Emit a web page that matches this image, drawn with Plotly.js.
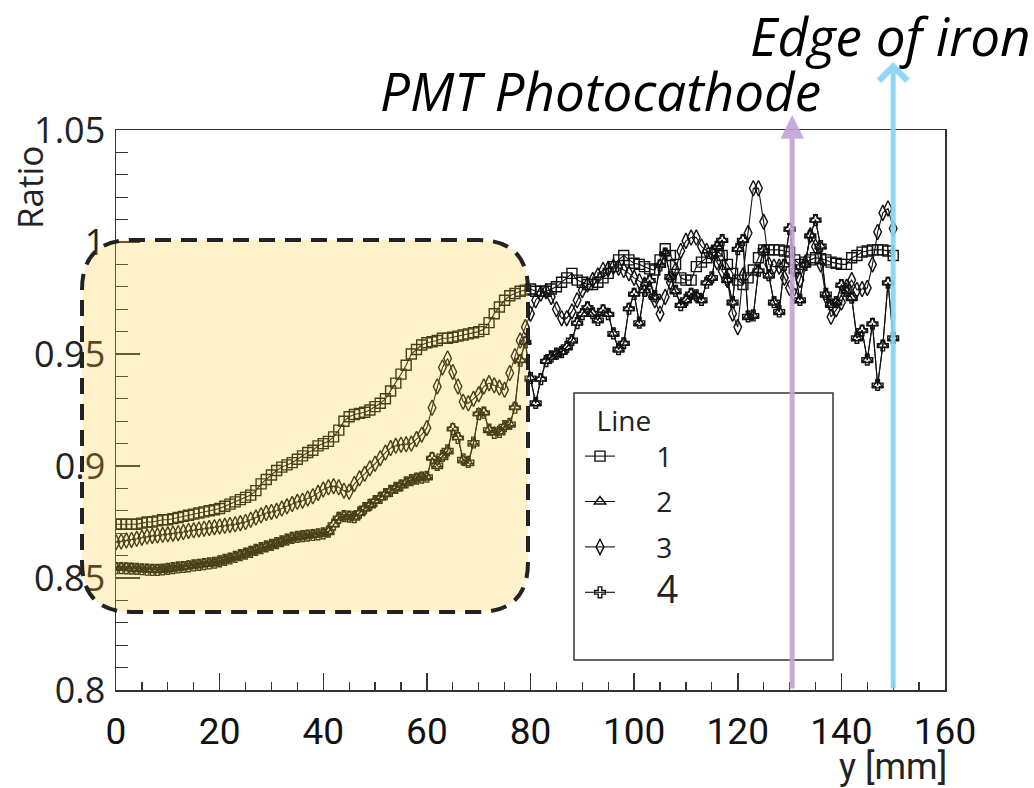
<!DOCTYPE html>
<html><head><meta charset="utf-8">
<script src="https://cdn.plot.ly/plotly-3.0.1.min.js"></script>
<style>html,body{margin:0;padding:0;background:#fff;} #chart{width:1034px;height:788px;}</style>
</head><body><div id="chart"></div>
<script>
// position along the bar, y [mm]
const yMM = [0,1,2,3,4,5,6,7,8,9,10,11,12,13,14,15,16,17,18,19,20,21,22,23,24,25,26,27,28,29,
30,31,32,33,34,35,36,37,38,39,40,41,42,43,44,45,46,47,48,49,50,51,52,53,54,55,56,57,58,59,
60,61,62,63,64,65,66,67,68,69,70,71,72,73,74,75,76,77,78,79,80,81,82,83,84,85,86,87,88,89,
90,91,92,93,94,95,96,97,98,99,100,101,102,103,104,105,106,107,108,109,110,111,112,113,114,115,116,117,118,119,
120,121,122,123,124,125,126,127,128,129,130,131,132,133,134,135,136,137,138,139,140,141,142,143,144,145,146,147,148,149,150];

const line1 = [0.874,0.874,0.874,0.874,0.874,0.8745,0.875,0.875,0.8755,0.876,
0.876,0.8765,0.877,0.8775,0.878,0.8785,0.879,0.8795,0.880,0.8805,
0.881,0.882,0.883,0.884,0.885,0.886,0.887,0.889,0.892,0.894,
0.896,0.898,0.8995,0.9005,0.9015,0.903,0.9045,0.906,0.907,0.909,
0.910,0.911,0.913,0.916,0.920,0.922,0.923,0.9235,0.924,0.925,
0.9265,0.928,0.930,0.9335,0.937,0.941,0.945,0.950,0.952,0.954,
0.955,0.9555,0.956,0.957,0.957,0.9575,0.958,0.9585,0.959,0.9595,
0.960,0.961,0.964,0.968,0.971,0.974,0.976,0.977,0.978,0.9785,
0.979,0.978,0.978,0.978,0.979,0.980,0.982,0.984,0.986,0.983,
0.982,0.981,0.981,0.982,0.984,0.986,0.989,0.992,0.994,0.992,
0.9905,0.990,0.989,0.988,0.9875,0.992,0.997,0.994,0.990,0.984,
0.983,0.983,0.989,0.991,0.993,0.995,0.996,0.994,0.990,0.986,
0.983,0.981,0.984,0.9875,0.993,0.9965,0.9965,0.9965,0.9965,0.996,
0.9955,0.992,0.990,0.991,0.992,0.993,0.9925,0.992,0.991,0.9905,
0.990,0.990,0.993,0.994,0.9955,0.996,0.9965,0.9965,0.9965,0.996,
0.994];

const line2 = [0.8546,0.8545,0.8545,0.8543,0.854,0.854,0.8538,0.8537,0.8536,0.8537,
0.854,0.8543,0.8546,0.855,0.8553,0.8556,0.856,0.8563,0.8565,0.8567,
0.8573,0.858,0.8588,0.8595,0.8603,0.861,0.8618,0.8625,0.8632,0.864,
0.8647,0.8655,0.8663,0.8672,0.868,0.8683,0.8686,0.869,0.8693,0.8696,
0.8698,0.8705,0.874,0.877,0.8775,0.8775,0.877,0.879,0.881,0.8825,
0.8845,0.886,0.8875,0.889,0.890,0.8915,0.8925,0.8935,0.8945,0.895,
0.895,0.904,0.900,0.904,0.9066,0.917,0.913,0.9025,0.9013,0.910,
0.9237,0.924,0.916,0.915,0.915,0.9175,0.9185,0.9265,0.9475,0.9555,
0.939,0.928,0.939,0.947,0.9487,0.950,0.951,0.953,0.956,0.964,
0.968,0.971,0.968,0.965,0.9697,0.968,0.959,0.952,0.955,0.9705,
0.977,0.9637,0.9786,0.983,0.9755,0.990,0.995,0.9844,0.978,0.972,
0.974,0.977,0.976,0.974,0.982,0.984,0.998,1.001,0.983,0.973,
0.997,1.001,0.9665,0.967,0.9875,0.9965,0.985,0.973,0.9687,0.990,
1.006,0.987,0.974,0.990,1.003,1.010,0.998,0.9765,0.972,0.973,
0.981,0.978,0.975,0.957,0.9607,0.9473,0.9637,0.936,0.954,0.982,
0.957];

const line3 = [0.866,0.8663,0.8667,0.867,0.8675,0.868,0.8685,0.8688,0.869,0.8693,
0.8695,0.8698,0.870,0.8705,0.871,0.8713,0.8717,0.872,0.8723,0.8727,
0.873,0.8733,0.8737,0.874,0.8745,0.875,0.876,0.877,0.878,0.879,
0.8795,0.880,0.881,0.882,0.883,0.884,0.8845,0.8855,0.8865,0.888,
0.8895,0.8905,0.891,0.8905,0.889,0.8885,0.892,0.8945,0.8965,0.899,
0.901,0.9035,0.906,0.908,0.909,0.9095,0.9097,0.910,0.912,0.914,
0.917,0.926,0.9355,0.944,0.948,0.942,0.9355,0.9287,0.928,0.930,
0.932,0.9355,0.937,0.936,0.935,0.934,0.9415,0.949,0.956,0.962,
0.968,0.974,0.977,0.978,0.9755,0.970,0.966,0.966,0.969,0.974,
0.9785,0.981,0.983,0.985,0.9875,0.988,0.989,0.9885,0.9875,0.986,
0.984,0.9825,0.981,0.978,0.974,0.968,0.9755,0.982,0.9875,0.996,
1.0005,1.002,1.002,0.998,0.996,0.995,0.991,0.987,0.983,0.968,
0.962,0.985,1.004,1.024,1.024,1.009,0.990,0.989,0.989,0.984,
0.9795,0.976,0.983,0.9905,1.003,0.998,0.990,0.976,0.9666,0.970,
0.973,0.980,0.983,0.9786,0.979,0.9795,0.990,1.0045,1.013,1.015,
1.006];

const line4 = [0.8544,0.8544,0.8543,0.8542,0.8541,0.8539,0.8537,0.8536,0.8536,0.8538,
0.8541,0.8544,0.8547,0.8549,0.8552,0.8556,0.8559,0.8562,0.8565,0.8568,
0.8574,0.8581,0.8587,0.8594,0.8602,0.8609,0.8617,0.8626,0.8633,0.8641,
0.8648,0.8656,0.8664,0.8671,0.8679,0.8684,0.8687,0.8689,0.8692,0.8695,
0.8699,0.8707,0.8738,0.8768,0.8776,0.8774,0.8772,0.8792,0.8812,0.8827,
0.8843,0.8858,0.8874,0.8889,0.8902,0.8913,0.8927,0.8937,0.8944,0.8948,
0.8952,0.9035,0.9005,0.9045,0.907,0.9165,0.9125,0.903,0.9018,0.9105,
0.9232,0.9238,0.9162,0.9148,0.9152,0.9178,0.9188,0.926,0.947,0.9552,
0.9393,0.9282,0.9388,0.9468,0.9489,0.9502,0.9508,0.9532,0.9562,0.9638,
0.9678,0.9708,0.9682,0.9652,0.9695,0.9678,0.9592,0.9522,0.9548,0.9702,
0.9768,0.964,0.9782,0.9828,0.9758,0.9895,0.9948,0.9846,0.9782,0.9718,
0.9742,0.9768,0.9762,0.9742,0.9818,0.9842,0.9978,1.0008,0.9832,0.9732,
0.9968,1.0008,0.9668,0.9672,0.9872,0.9962,0.9852,0.9732,0.969,0.9898,
1.0058,0.9872,0.9742,0.9898,1.0028,1.0098,0.9982,0.9768,0.9722,0.9732,
0.9808,0.9782,0.9752,0.9572,0.9605,0.9475,0.9635,0.9362,0.9538,0.9818,
0.9572];

const seriesNames = ['1','2','3','4'];
const xTickVals = [0,20,40,60,80,100,120,140,160];
const yTickVals = [0.8,0.85,0.9,0.95,1,1.05];
const yTickText = ['0.8','0.85','0.9','0.95','1','1.05'];
const photocathodeY = 130.5;
const ironEdgeY = 150;

// layout helpers (pixel -> paper)
const L=116, R=945, T=130, B=690;
const px = x => (x-L)/(R-L);
const py = y => (B-y)/(B-T);

const ink = '#111';
const series = [
  {y: line1, sym:'square-open', size:10},
  {y: line2, sym:'triangle-up-open', size:10},
  {y: line3, sym:'diamond-tall-open', size:11},
  {y: line4, sym:'cross-open', size:9}
];
const pad = '\u00a0\u00a0\u00a0\u00a0\u00a0';
const traces = series.map((s,i)=>({
  type:'scatter', mode:'lines+markers', x:yMM, y:s.y,
  name: pad + (i===3 ? '<span style="font-size:38px;">'+seriesNames[i]+'</span>' : seriesNames[i]),
  legendgroup:'g'+i,
  line:{color:ink, width:1.1},
  marker:{symbol:s.sym, size:s.size, color:ink, line:{width:1.4, color:ink}}
}));

// rounded yellow box
const bx0=px(82), bx1=px(528), byT=py(240), byB=py(612);
const rx=50/(R-L), ry=50/(B-T);
const boxPath = `M ${bx0},${byT-ry} Q ${bx0},${byT} ${bx0+rx},${byT} L ${bx1-rx},${byT} Q ${bx1},${byT} ${bx1},${byT-ry} L ${bx1},${byB+ry} Q ${bx1},${byB} ${bx1-rx},${byB} L ${bx0+rx},${byB} Q ${bx0},${byB} ${bx0},${byB+ry} Z`;

const tickFontX = {family:'Roboto, sans-serif', size:37, color:ink};
const tickFontY = {family:'Open Sans, sans-serif', size:36, color:'#222'};

const layout = {
  width:1034, height:788,
  margin:{l:L, r:1034-R, t:T, b:788-B, pad:0},
  paper_bgcolor:'#fff', plot_bgcolor:'#fff',
  showlegend:true,
  legend:{x:px(580), y:py(395), xanchor:'left', yanchor:'top', bgcolor:'rgba(0,0,0,0)', borderwidth:0,
    font:{family:'Open Sans, sans-serif', size:28, color:'#222'},
    title:{text:'\u00a0\u00a0Line', font:{family:'Open Sans, sans-serif', size:28, color:'#222'}},
    tracegroupgap:6, traceorder:'grouped'},
  xaxis:{range:[0,160], tickvals:xTickVals, ticks:'inside', ticklen:17, tickwidth:1.5, tickcolor:'#333',
    showline:true, linecolor:'#333', linewidth:1.5, mirror:true, showgrid:false, zeroline:false,
    tickfont:tickFontX, ticklabelstandoff:8,
    minor:{dtick:5, ticks:'inside', ticklen:8, tickwidth:1.2, tickcolor:'#333', showgrid:false}},
  yaxis:{range:[0.8,1.05], tickvals:yTickVals, ticktext:yTickText, ticks:'inside', ticklen:24, tickwidth:1.5, tickcolor:'#333',
    showline:true, linecolor:'#333', linewidth:1.5, mirror:true, showgrid:false, zeroline:false,
    tickfont:tickFontY, ticklabelstandoff:2,
    minor:{dtick:0.01, ticks:'inside', ticklen:12, tickwidth:1.2, tickcolor:'#333', showgrid:false}},
  shapes:[
    {type:'rect', xref:'paper', yref:'paper', x0:px(574), x1:px(833), y0:py(660), y1:py(393),
     line:{color:'#333', width:1.5}, fillcolor:'#fff', layer:'above'},
    {type:'path', xref:'paper', yref:'paper', path:boxPath, fillcolor:'rgba(255,200,40,0.25)',
     line:{color:'#222', width:4, dash:'16px,10px'}, layer:'above'}
  ],
  annotations:[
    {xref:'x', yref:'paper', x:ironEdgeY, y:py(62), ax:0, ay:B-62, text:'', showarrow:true,
     arrowhead:4, arrowsize:1.1, arrowwidth:5, arrowcolor:'rgba(135,212,245,0.92)'},
    {xref:'x', yref:'paper', x:photocathodeY, y:py(115), ax:0, ay:B-115, text:'', showarrow:true,
     arrowhead:2, arrowsize:0.95, arrowwidth:5, arrowcolor:'rgba(192,162,216,0.9)'},
    {xref:'paper', yref:'paper', x:px(378), y:py(90), xanchor:'left', yanchor:'middle', showarrow:false,
     text:'PMT Photocathode', font:{family:'Open Sans, sans-serif', size:53, style:'italic', color:'#000'}},
    {xref:'paper', yref:'paper', x:px(748), y:py(36), xanchor:'left', yanchor:'middle', showarrow:false,
     text:'Edge of iron', font:{family:'Open Sans, sans-serif', size:53, style:'italic', color:'#000'}},
    {xref:'paper', yref:'paper', x:px(30), y:py(188), xanchor:'center', yanchor:'middle', showarrow:false, textangle:-90,
     text:'Ratio', font:{family:'Open Sans, sans-serif', size:35, color:'#222'}},
    {xref:'paper', yref:'paper', x:px(893), y:py(767), xanchor:'center', yanchor:'middle', showarrow:false,
     text:'y [mm]', font:{family:'Roboto, sans-serif', size:36, color:'#222'}}
  ]
};

Plotly.newPlot('chart', traces, layout, {displayModeBar:false, staticPlot:true});
</script></body></html>
